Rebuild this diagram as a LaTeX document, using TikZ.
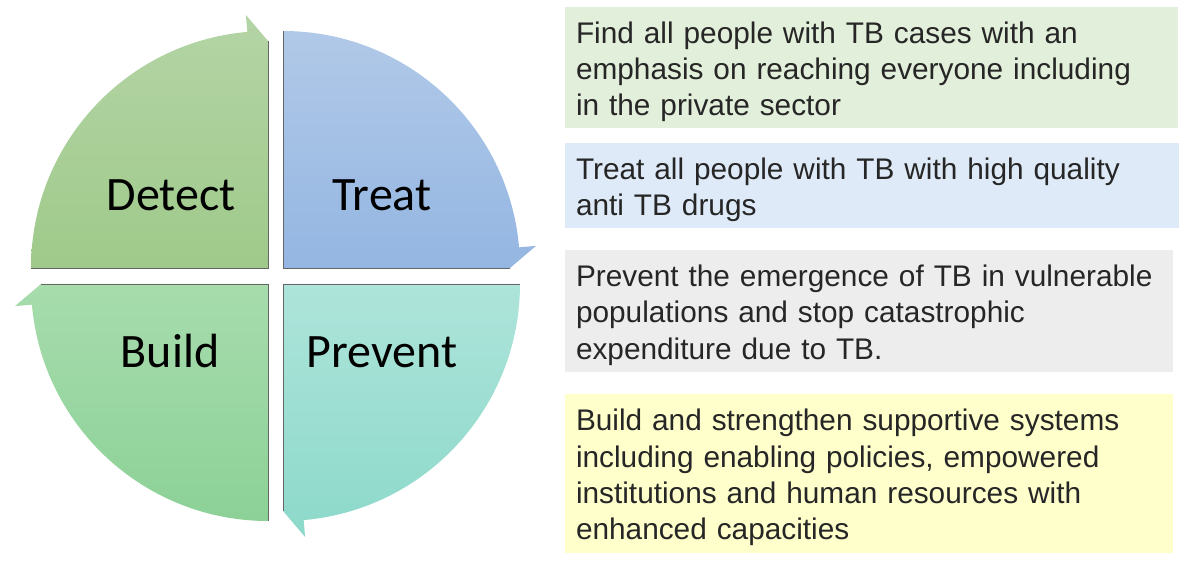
\documentclass[tikz,border=0pt]{standalone}
\usepackage{fontspec}
\setmainfont{Liberation Sans}
\newfontfamily\calibri{Carlito}
\definecolor{detTop}{RGB}{180,212,165}
\definecolor{detBot}{RGB}{159,202,139}
\definecolor{trtTop}{RGB}{177,201,232}
\definecolor{trtBot}{RGB}{148,182,226}
\definecolor{prvTop}{RGB}{174,228,218}
\definecolor{prvBot}{RGB}{140,217,202}
\definecolor{bldTop}{RGB}{167,220,173}
\definecolor{bldBot}{RGB}{140,209,151}
\definecolor{boxGreen}{RGB}{226,239,218}
\definecolor{boxBlue}{RGB}{222,234,247}
\definecolor{boxGrey}{RGB}{237,237,237}
\definecolor{boxYellow}{RGB}{255,255,204}
\definecolor{txt}{RGB}{38,38,38}
\begin{document}
\begin{tikzpicture}[x=1pt,y=1pt,
	edge/.style={draw=black!60,line width=0.8pt},
	quad_label/.style={anchor=base,font=\calibri\fontsize{48}{56}\selectfont,text=black},
	txt_box/.style={rectangle,inner xsep=11pt,inner ysep=0pt,align=left,text=txt,font=\fontsize{29.8}{36.3}\selectfont,
		execute at begin node={\rule{0pt}{30pt}}}]

	\useasboundingbox (0,0) rectangle (1192,560);

	% quadrants
	\begin{scope}[shift={(268,292)}]
		\shade[top color=detTop,bottom color=detBot] (0,0) -- (180:237) arc[start angle=180,end angle=95,radius=237] -- (95:254) -- (90:227) -- cycle;
		\draw[edge] (180:237) -- (0,0) -- (90:227);
	\end{scope}
	\begin{scope}[shift={(283,292)}]
		\shade[top color=trtTop,bottom color=trtBot] (0,0) -- (90:237) arc[start angle=90,end angle=5,radius=237] -- (5:254) -- (0:227) -- cycle;
		\draw[edge] (90:237) -- (0,0) -- (0:227);
	\end{scope}
	\begin{scope}[shift={(283,276)}]
		\shade[top color=prvTop,bottom color=prvBot] (0,0) -- (0:237) arc[start angle=0,end angle=-85,radius=237] -- (-85:254) -- (-90:227) -- cycle;
		\draw[edge] (0:237) -- (0,0) -- (-90:227);
	\end{scope}
	\begin{scope}[shift={(268,276)}]
		\shade[top color=bldTop,bottom color=bldBot] (0,0) -- (-90:237) arc[start angle=-90,end angle=-175,radius=237] -- (-175:254) -- (-180:227) -- cycle;
		\draw[edge] (-90:237) -- (0,0) -- (180:227);
	\end{scope}

	\node[quad_label] (detect) at (171,349) {Detect};
	\node[quad_label] (treat) at (382,349) {Treat};
	\node[quad_label] (build) at (170,192) {Build};
	\node[quad_label] (prevent) at (382,192) {Prevent};

	% boxes
	\node[txt_box,fill=boxGreen,minimum width=613pt,minimum height=121pt,text width=591pt] (find) at (871.5,492.5)
		{Find all people with TB cases with an\\emphasis on reaching everyone including\\in the private sector};
	\node[txt_box,fill=boxBlue,minimum width=614pt,minimum height=85pt,text width=592pt] (cure) at (872,374.5)
		{Treat all people with TB with high quality\\anti TB drugs};
	\node[txt_box,fill=boxGrey,minimum width=608pt,minimum height=122pt,text width=586pt] (stop) at (869,249)
		{Prevent the emergence of TB in vulnerable\\populations and stop catastrophic\\expenditure due to TB.};
	\node[txt_box,fill=boxYellow,minimum width=608pt,minimum height=159pt,text width=586pt] (systems) at (869,86.5)
		{Build and strengthen supportive systems\\including enabling policies, empowered\\institutions and human resources with\\enhanced capacities};
\end{tikzpicture}
\end{document}
